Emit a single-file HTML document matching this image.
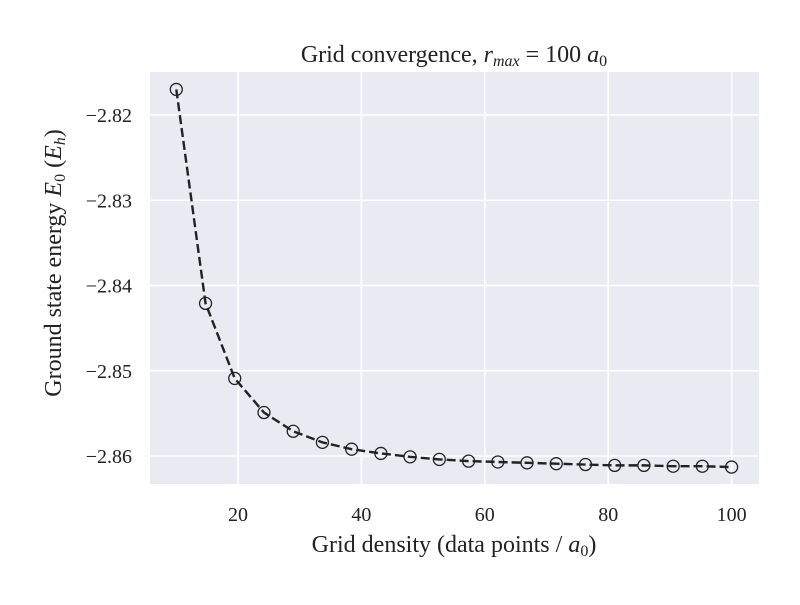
<!DOCTYPE html>
<html><head><meta charset="utf-8"><style>
body{margin:0;background:#fff}
svg text{font-family:"Liberation Serif",serif;fill:#222}
</style></head><body>
<svg width="800" height="600" xmlns="http://www.w3.org/2000/svg">
<rect x="150" y="72" width="609" height="412" fill="#eaeaf2"/>
<g id="grid"></g>
<g id="ticks"></g>
<path id="line" fill="none" stroke="#222" stroke-width="2.4" stroke-dasharray="9,4"/>
<g id="pts"></g>
<text x="454" y="62" text-anchor="middle" font-size="24">Grid convergence, <tspan font-style="italic">r</tspan><tspan font-style="italic" font-size="16" dy="4">max</tspan><tspan dy="-4"> = 100 </tspan><tspan font-style="italic">a</tspan><tspan font-size="16" dy="4">0</tspan></text>
<text x="454" y="552" text-anchor="middle" font-size="24">Grid density (data points / <tspan font-style="italic">a</tspan><tspan font-size="16" dy="4">0</tspan><tspan dy="-4">)</tspan></text>
<text transform="translate(61,263) rotate(-90)" text-anchor="middle" font-size="24">Ground state energy <tspan font-style="italic">E</tspan><tspan font-size="16" dy="4">0</tspan><tspan dy="-4"> (</tspan><tspan font-style="italic">E</tspan><tspan font-style="italic" font-size="16" dy="4">h</tspan><tspan dy="-4">)</tspan></text>
</svg>
<script>
const xTicks=[20,40,60,80,100];
const yTicks=[-2.82,-2.83,-2.84,-2.85,-2.86];
const yTickLabels=["−2.82","−2.83","−2.84","−2.85","−2.86"];
const density=[10,14.74,19.47,24.21,28.95,33.68,38.42,43.16,47.89,52.63,57.37,62.11,66.84,71.58,76.32,81.05,85.79,90.53,95.26,100];
const energy=[-2.8170,-2.8421,-2.8509,-2.8549,-2.8571,-2.8584,-2.8592,-2.8597,-2.8601,-2.8604,-2.8606,-2.8607,-2.8608,-2.8609,-2.8610,-2.8611,-2.8611,-2.8612,-2.8612,-2.8613];
const X=v=>238+(v-20)*6.17;
const Y=v=>115+(-2.82-v)/0.01*85.25;
const NS="http://www.w3.org/2000/svg";
const grid=document.getElementById('grid'),ticks=document.getElementById('ticks'),pts=document.getElementById('pts');
function mk(tag,at,parent){const e=document.createElementNS(NS,tag);for(const k in at)e.setAttribute(k,at[k]);parent.appendChild(e);return e;}
xTicks.forEach(t=>{
 const l=mk('line',{x1:X(t),x2:X(t),y1:72,y2:484,stroke:'#fff','stroke-width':1.6},grid);
 
 
 const tx=mk('text',{x:X(t),y:521,'text-anchor':'middle','font-size':20},ticks);
 tx.textContent=t;
 
 
});
yTicks.forEach((t,i)=>{
 const l=mk('line',{x1:150,x2:759,y1:Y(t),y2:Y(t),stroke:'#fff','stroke-width':1.6},grid);
 
 
 const tx=mk('text',{x:132,y:Y(t)+7,'text-anchor':'end','font-size':20},ticks);
 tx.textContent=yTickLabels[i];
 
 
});
document.getElementById('line').setAttribute('d',density.map((d,i)=>(i?'L':'M')+X(d)+','+Y(energy[i])).join(''));
density.forEach((d,i)=>{
 const c=mk('circle',{cx:X(d),cy:Y(energy[i]),r:6,fill:'none',stroke:'#222','stroke-width':1.3},pts);
 
 
});
</script>
</body></html>
